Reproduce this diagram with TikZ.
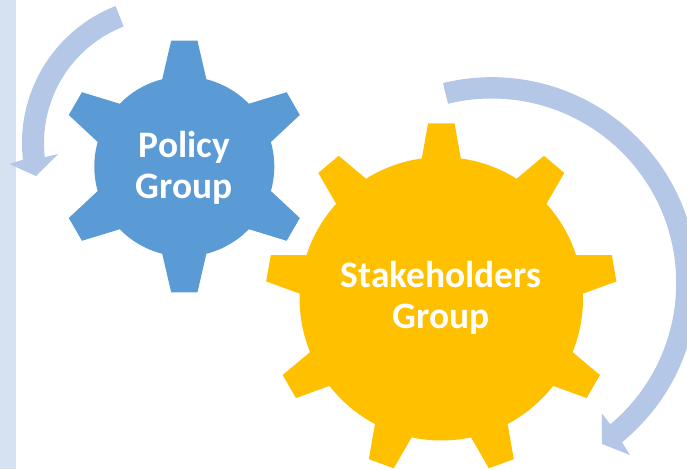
\documentclass[tikz,border=0pt]{standalone}
\usepackage{fontspec}
\setmainfont{Carlito}
\definecolor{gearblue}{HTML}{5B9BD5}
\definecolor{gearyellow}{HTML}{FFC000}
\definecolor{arrowblue}{HTML}{B4C7E7}
\definecolor{barblue}{HTML}{D6E2F1}
\tikzset{
  geartext/.style={text=white,font=\fontsize{37.4}{41}\selectfont\bfseries,align=center,inner sep=0pt},
  curvedarrow/.style={fill=arrowblue,draw=none},
}
\begin{document}
\begin{tikzpicture}[x=1pt,y=1pt]
\useasboundingbox (0,0) rectangle (687,469);
\clip (0,0) rectangle (687,469);
\fill[barblue] (0,0) rectangle (16,469);
% left arrow
\begin{scope}[shift={(169,326)}]
\path[curvedarrow] (111.3:147pt) arc[start angle=111.3,end angle=186.5,radius=147pt]
  -- (187.5:161pt) -- (194:137pt) -- (185.7:111.5pt) -- (186.5:125pt)
  arc[start angle=186.5,end angle=111.3,radius=125pt] -- cycle;
\end{scope}
% right arrow
\begin{scope}[shift={(491.7,186)}]
\path[curvedarrow] (103.7:205.8pt) arc[start angle=103.7,end angle=-50.7,radius=205.8pt]
  -- (-51.2:220.7pt) -- (-55.6:195pt) -- (-49.8:170.7pt) -- (-50:184.5pt)
  arc[start angle=-50,end angle=103.7,radius=184.5pt] -- cycle;
\end{scope}
% blue gear
\begin{scope}[shift={(184.3,302.5)}]
\fill[gearblue] (104.2:90pt)
  \foreach \a in {0,-60,-120,-180,-240,-300} {
    -- ([rotate=\a]-13.15,125.8) -- ([rotate=\a]13.15,125.8) -- ({75.8+\a}:90pt)
    arc[start angle={75.8+\a},end angle={44.2+\a},radius=90pt]
  } -- cycle;
\end{scope}
% yellow gear
\begin{scope}[shift={(441.3,170.2)}]
\fill[gearyellow] (97.9:141.7pt)
  \foreach \a in {0,-40,-80,-120,-160,-200,-240,-280,-320} {
    -- ([rotate=\a]-13.3,175.5) -- ([rotate=\a]13.3,175.5) -- ({82.1+\a}:141.7pt)
    arc[start angle={82.1+\a},end angle={57.9+\a},radius=141.7pt]
  } -- cycle;
\end{scope}
\node[geartext] (policy) at (184.3,301) {Policy\\Group};
\node[geartext] (stake) at (441,171.2) {Stakeholders\\Group};
\end{tikzpicture}
\end{document}
